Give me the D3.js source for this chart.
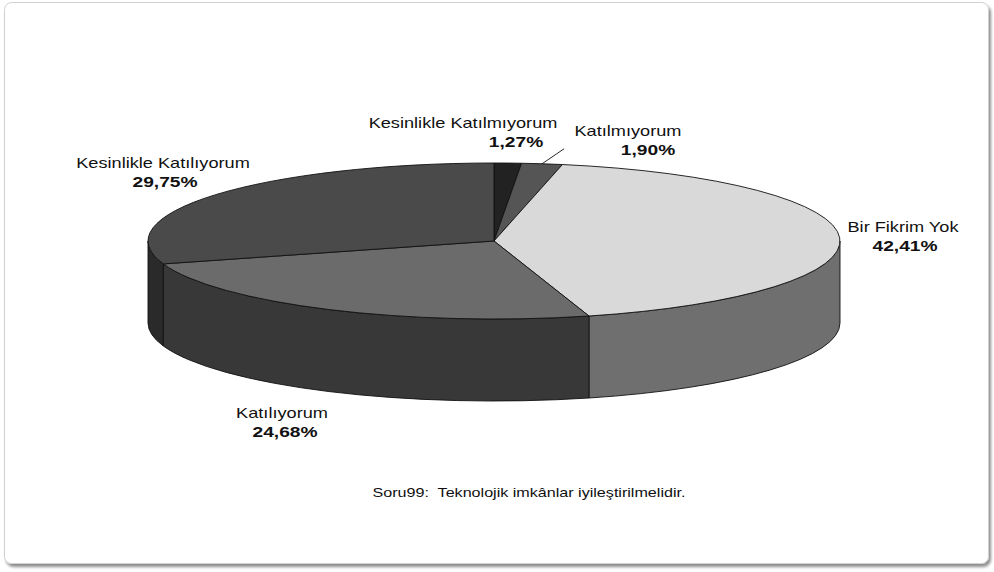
<!DOCTYPE html>
<html>
<head>
<meta charset="utf-8">
<script src="https://cdn.jsdelivr.net/npm/d3@7/dist/d3.min.js"></script>
<style>
  html, body { margin: 0; padding: 0; background: #fff; }
  svg { display: block; }
  text { font-family: "Liberation Sans", Arial, sans-serif; fill: #111; }
</style>
</head>
<body>
<svg id="chart" width="994" height="572"></svg>
<script>
// Survey answers, in drawing order (clockwise from 12 o'clock)
const categories = [
  "Kesinlikle Katılmıyorum",
  "Katılmıyorum",
  "Bir Fikrim Yok",
  "Katılıyorum",
  "Kesinlikle Katılıyorum"
];
const values = [1.27, 1.90, 42.41, 24.68, 29.75];
const title = "Soru99:  Teknolojik imkânlar iyileştirilmelidir.";

// Fill of each slice's top face and its outer wall
const topColors  = ["#222222", "#555555", "#d9d9d9", "#6b6b6b", "#4a4a4a"];
const sideColors = ["#111111", "#2a2a2a", "#6f6f6f", "#383838", "#2a2a2a"];

// Label placement (centre of the two-line label, baseline of first line)
const labelLayout = [
  { x: 463, y: 128, vdx: 53 },
  { x: 628, y: 136, vdx: 20 },
  { x: 903, y: 232, vdx: 2 },
  { x: 282, y: 418, vdx: 3 },
  { x: 163, y: 168, vdx: 2 }
];

const svg = d3.select("#chart");

// Card frame with a soft shadow
const defs = svg.append("defs");
const f = defs.append("filter").attr("id", "shadow")
  .attr("x", "-5%").attr("y", "-5%").attr("width", "110%").attr("height", "115%");
f.append("feGaussianBlur").attr("in", "SourceAlpha").attr("stdDeviation", 1.6).attr("result", "b");
f.append("feOffset").attr("in", "b").attr("dx", 1.5).attr("dy", 3).attr("result", "o");
f.append("feComponentTransfer").attr("in", "o").attr("result", "s")
  .append("feFuncA").attr("type", "linear").attr("slope", 0.45);
const m = f.append("feMerge");
m.append("feMergeNode").attr("in", "s");
m.append("feMergeNode").attr("in", "SourceGraphic");

svg.append("rect")
  .attr("x", 4.5).attr("y", 2.5).attr("width", 984).attr("height", 561)
  .attr("rx", 7).attr("ry", 7)
  .attr("fill", "#fff").attr("stroke", "#d6cfcf").attr("stroke-width", 1)
  .attr("filter", "url(#shadow)");

// 3D pie geometry
const cx = 494, cy = 241, rx = 346, ry = 78, depth = 82;
const pt = (a, dy = 0) => [cx + rx * Math.sin(a), cy - ry * Math.cos(a) + dy];

const pie = d3.pie().sort(null).value(d => d)(values);

const g = svg.append("g");

// outer walls (only the front half is visible)
pie.forEach((d, i) => {
  const s = Math.max(d.startAngle, Math.PI / 2);
  const e = Math.min(d.endAngle, 3 * Math.PI / 2);
  if (s >= e) return;
  const p0 = pt(s), p1 = pt(e), q1 = pt(e, depth), q0 = pt(s, depth);
  const path = `M${p0}A${rx},${ry} 0 0 1 ${p1}L${q1}A${rx},${ry} 0 0 0 ${q0}Z`;
  g.append("path").attr("d", path)
    .attr("fill", sideColors[i]).attr("stroke", "#111").attr("stroke-width", 0.9)
    .attr("stroke-linejoin", "round");
});

// top faces
pie.forEach((d, i) => {
  const p0 = pt(d.startAngle), p1 = pt(d.endAngle);
  const large = (d.endAngle - d.startAngle) > Math.PI ? 1 : 0;
  const path = `M${cx},${cy}L${p0}A${rx},${ry} 0 ${large} 1 ${p1}Z`;
  g.append("path").attr("d", path)
    .attr("fill", topColors[i]).attr("stroke", "#111").attr("stroke-width", 0.9)
    .attr("stroke-linejoin", "round");
});

// leader line for the thin "Katılmıyorum" slice
{
  const d = pie[1];
  const mid = (d.startAngle + d.endAngle) / 2;
  const p = pt(mid);
  g.append("line")
    .attr("x1", p[0]).attr("y1", p[1])
    .attr("x2", p[0] + 22).attr("y2", p[1] - 15)
    .attr("stroke", "#111").attr("stroke-width", 0.9);
}

// labels
const locale = d3.formatLocale({ decimal: ",", thousands: ".", grouping: [3], currency: ["", ""] });
const fmt = locale.format(".2f");
const sx = 1.28;

pie.forEach((d, i) => {
  const L = labelLayout[i];
  svg.append("text")
    .attr("transform", `translate(${L.x},${L.y}) scale(${sx},1)`)
    .attr("text-anchor", "middle").attr("font-size", 14.2)
    .text(categories[i]);
  svg.append("text")
    .attr("transform", `translate(${L.x + L.vdx},${L.y + 19}) scale(${sx},1)`)
    .attr("text-anchor", "middle").attr("font-size", 15).attr("font-weight", "bold")
    .text(fmt(d.data) + "%");
});

svg.append("text")
  .attr("transform", `translate(529,497) scale(1.29,1)`)
  .attr("text-anchor", "middle").attr("font-size", 12.5)
  .attr("xml:space", "preserve")
  .style("white-space", "pre")
  .text(title);
</script>
</body>
</html>
